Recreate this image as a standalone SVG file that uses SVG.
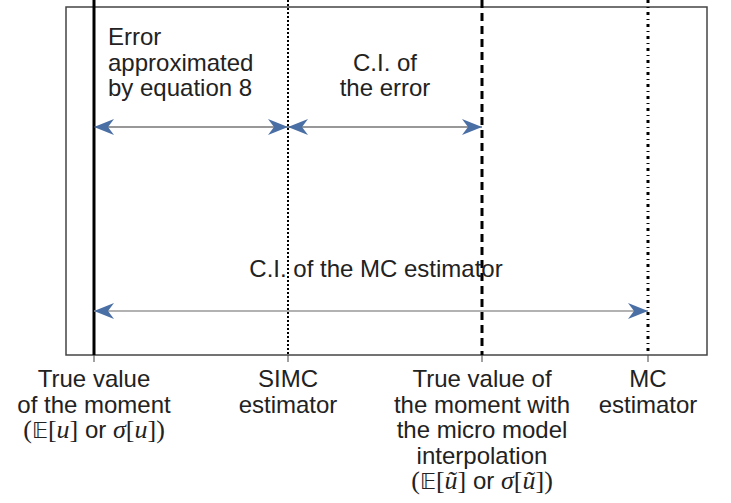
<svg xmlns="http://www.w3.org/2000/svg" width="731" height="503" viewBox="0 0 731 503">
<style>
text{font-family:"Liberation Sans",Arial,sans-serif;font-size:24px;fill:#222}
.m{text-anchor:middle}
.it{font-family:"Liberation Serif","DejaVu Serif",serif;font-style:italic;font-size:26px}
.rm{font-family:"Liberation Serif","DejaVu Serif",serif;font-size:26px}
.bb{font-family:"DejaVu Sans","Noto Sans",sans-serif;font-size:22px}
.tick{stroke:#444;stroke-width:1}
.arr{stroke:#333;stroke-width:1.2;fill:none;marker-start:url(#ah);marker-end:url(#ah)}
.arr.g{stroke:#999;stroke-width:1.5}
</style>
<defs>
<marker id="ah" viewBox="0 0 20 16" refX="20" refY="8" markerWidth="20" markerHeight="16" markerUnits="userSpaceOnUse" orient="auto-start-reverse">
<path d="M0,0 L20,8 L0,16 L6,8 Z" fill="#4a6fa5"/>
</marker>
</defs>
<rect width="731" height="503" fill="#fff"/>
<rect x="66" y="7" width="641" height="348" fill="none" stroke="#444" stroke-width="1.5"/>
<g id="lines">
<line x1="94" y1="0" x2="94" y2="355" stroke="#000" stroke-width="3"/>
<line x1="288" y1="0" x2="288" y2="355" stroke="#000" stroke-width="2" stroke-dasharray="2,2"/>
<line x1="482" y1="0" x2="482" y2="355" stroke="#000" stroke-width="3" stroke-dasharray="8,5"/>
<line x1="648" y1="0" x2="648" y2="355" stroke="#000" stroke-width="3" stroke-dasharray="3,4,1,4"/>
<line class="tick" x1="94" y1="355" x2="94" y2="362"/>
<line class="tick" x1="288" y1="355" x2="288" y2="362"/>
<line class="tick" x1="482" y1="355" x2="482" y2="362"/>
<line class="tick" x1="648" y1="355" x2="648" y2="362"/>
</g>
<g id="connectors">
<line class="arr" x1="94" y1="127" x2="288" y2="127"/>
<line class="arr" x1="288" y1="127" x2="482" y2="127"/>
<line class="arr g" x1="94" y1="311" x2="648" y2="311"/>
</g>
<g id="label-error">
<text x="108" y="45">Error</text>
<text x="108" y="71">approximated</text>
<text x="108" y="96">by equation 8</text>
</g>
<g id="label-ci-error">
<text class="m" x="385" y="71">C.I. of</text>
<text class="m" x="385" y="96">the error</text>
</g>
<g id="label-ci-mc">
<text class="m" x="376" y="277">C.I. of the MC estimator</text>
</g>
<g id="node-true">
<text class="m" x="94" y="387">True value</text>
<text class="m" x="94" y="412.5">of the moment</text>
<text class="m" x="94" y="438"><tspan class="rm">(</tspan><tspan class="bb">𝔼</tspan><tspan class="rm">[</tspan><tspan class="it">u</tspan><tspan class="rm">]</tspan> or <tspan class="it">σ</tspan><tspan class="rm">[</tspan><tspan class="it">u</tspan><tspan class="rm">])</tspan></text>
</g>
<g id="node-simc">
<text class="m" x="288" y="387">SIMC</text>
<text class="m" x="288" y="412.5">estimator</text>
</g>
<g id="node-interp">
<text class="m" x="482" y="387">True value of</text>
<text class="m" x="482" y="412.5">the moment with</text>
<text class="m" x="482" y="438">the micro model</text>
<text class="m" x="482" y="463.5">interpolation</text>
<text class="m" x="482" y="489"><tspan class="rm">(</tspan><tspan class="bb">𝔼</tspan><tspan class="rm">[</tspan><tspan class="it">ũ</tspan><tspan class="rm">]</tspan> or <tspan class="it">σ</tspan><tspan class="rm">[</tspan><tspan class="it">ũ</tspan><tspan class="rm">])</tspan></text>
</g>
<g id="node-mc">
<text class="m" x="648" y="387">MC</text>
<text class="m" x="648" y="412.5">estimator</text>
</g>
</svg>
